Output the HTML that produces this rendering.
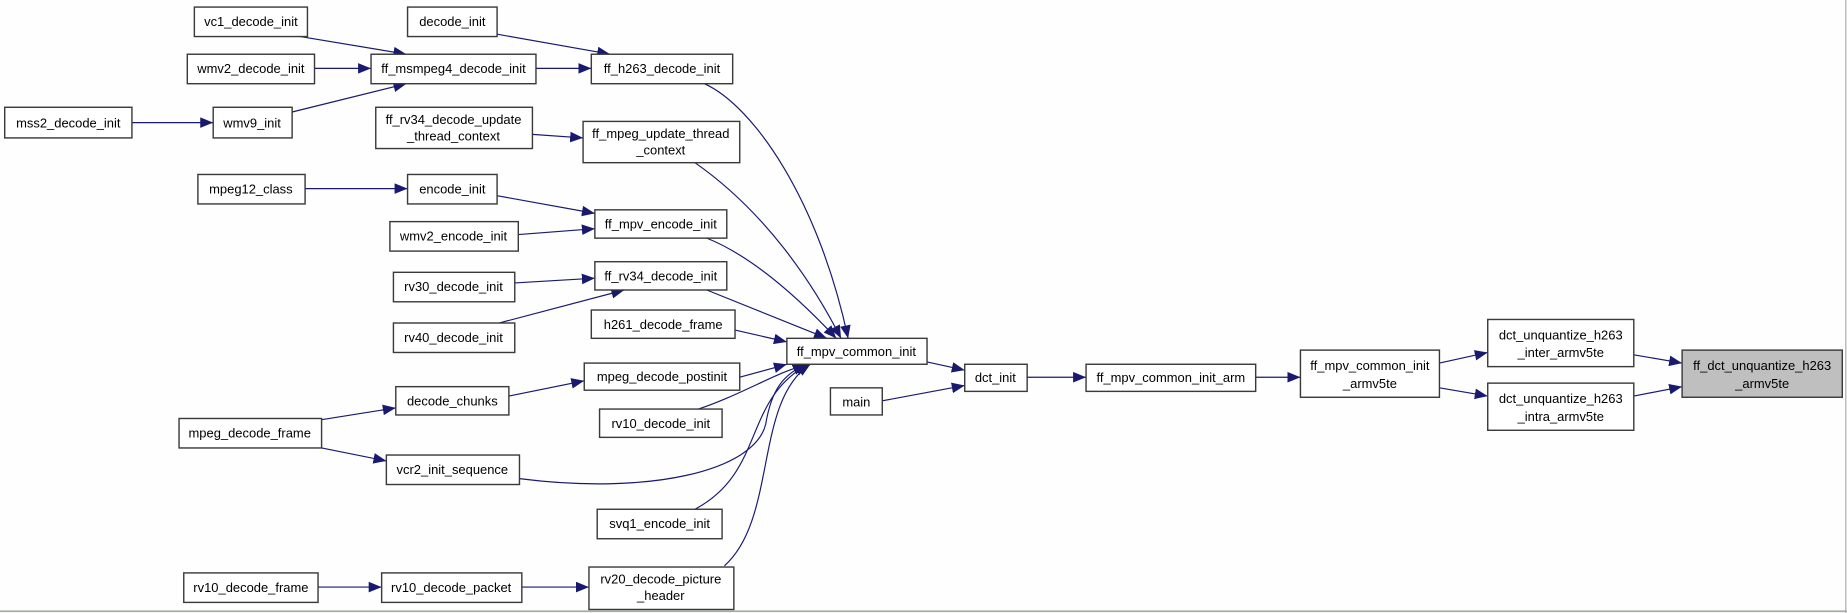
<!DOCTYPE html>
<html><head><meta charset="utf-8"><style>
html,body{margin:0;padding:0;background:#fdfefd;}
svg{display:block;}
text{font-family:"Liberation Sans",sans-serif;font-size:11px;fill:#000;text-anchor:middle;}
.n{fill:#fff;stroke:#3a3a3a;stroke-width:1.2;}
.e{fill:none;stroke:#191970;stroke-width:1;marker-end:url(#a);}
</style></head><body>
<svg width="1847" height="613" viewBox="0 0 1568 520" preserveAspectRatio="none" xmlns="http://www.w3.org/2000/svg">
<defs><marker id="a" markerUnits="userSpaceOnUse" markerWidth="12" markerHeight="10" refX="11" refY="4.5" orient="auto"><path d="M0,0 L11,4.5 L0,9 Z" fill="#191970"/></marker></defs>
<rect x="0" y="0" width="1568" height="520" fill="#fdfefd"/>
<line x1="0" y1="518.5" x2="1568" y2="518.5" stroke="#aaa" stroke-width="1.5"/>
<line x1="1567" y1="0" x2="1567" y2="520" stroke="#aaa" stroke-width="1"/>
<g>
<path class="e" d="M255,31 L345,46"/>
<path class="e" d="M267,58 L315,58"/>
<path class="e" d="M248,95 L345,71"/>
<path class="e" d="M112,104 L181,104"/>
<path class="e" d="M422,29 L518,46"/>
<path class="e" d="M455,58 L502,58"/>
<path class="e" d="M452,114 L495,117"/>
<path class="e" d="M259,160 L346,160"/>
<path class="e" d="M422,166 L505,181"/>
<path class="e" d="M440,199 L505,194"/>
<path class="e" d="M437,240 L505,236"/>
<path class="e" d="M420,275 L530,246"/>
<path class="e" d="M598,71 C640,90 695,170 720,287"/>
<path class="e" d="M590,138 C650,180 690,240 714,287"/>
<path class="e" d="M600,202 C640,218 680,255 710,287"/>
<path class="e" d="M600,246 L702,287"/>
<path class="e" d="M624,280 L668,290"/>
<path class="e" d="M628,320 L668,309"/>
<path class="e" d="M590,348 C630,335 660,315 686,309"/>
<path class="e" d="M441,406 C550,420 640,400 650,360 C655,330 665,318 684,309"/>
<path class="e" d="M590,432 C650,400 630,340 686,309"/>
<path class="e" d="M615,480 C660,440 640,340 688,309"/>
<path class="e" d="M432,336 L496,323"/>
<path class="e" d="M273,356 L336,346"/>
<path class="e" d="M273,380 L328,391"/>
<path class="e" d="M270,498 L324,498"/>
<path class="e" d="M443,498 L500,498"/>
<path class="e" d="M787,307 L819,314"/>
<path class="e" d="M749,340 L819,327"/>
<path class="e" d="M872,320 L922,320"/>
<path class="e" d="M1066,320 L1104,320"/>
<path class="e" d="M1222,308 L1263,299"/>
<path class="e" d="M1222,329 L1263,336"/>
<path class="e" d="M1387,301 L1428,308"/>
<path class="e" d="M1387,336 L1428,328"/>
</g>
<g>
<rect class="n" x="165" y="6" width="96" height="25"/><text x="213" y="22">vc1_decode_init</text>
<rect class="n" x="346" y="6" width="76" height="25"/><text x="384" y="22">decode_init</text>
<rect class="n" x="159" y="46" width="108" height="25"/><text x="213" y="62">wmv2_decode_init</text>
<rect class="n" x="315" y="46" width="140" height="25"/><text x="385" y="62">ff_msmpeg4_decode_init</text>
<rect class="n" x="502" y="46" width="120" height="25"/><text x="562" y="62">ff_h263_decode_init</text>
<rect class="n" x="4" y="91" width="108" height="26"/><text x="58" y="108">mss2_decode_init</text>
<rect class="n" x="181" y="91" width="67" height="26"/><text x="214" y="108">wmv9_init</text>
<rect class="n" x="319" y="91" width="133" height="35"/><text x="385" y="105">ff_rv34_decode_update</text><text x="385" y="119">_thread_context</text>
<rect class="n" x="495" y="103" width="133" height="35"/><text x="561" y="117">ff_mpeg_update_thread</text><text x="561" y="131">_context</text>
<rect class="n" x="168" y="148" width="91" height="25"/><text x="213" y="164">mpeg12_class</text>
<rect class="n" x="346" y="148" width="76" height="25"/><text x="384" y="164">encode_init</text>
<rect class="n" x="505" y="178" width="112" height="24"/><text x="561" y="194">ff_mpv_encode_init</text>
<rect class="n" x="331" y="188" width="109" height="25"/><text x="385" y="204">wmv2_encode_init</text>
<rect class="n" x="505" y="222" width="112" height="24"/><text x="561" y="238">ff_rv34_decode_init</text>
<rect class="n" x="334" y="231" width="103" height="25"/><text x="385" y="247">rv30_decode_init</text>
<rect class="n" x="502" y="263" width="122" height="24"/><text x="563" y="279">h261_decode_frame</text>
<rect class="n" x="334" y="274" width="103" height="25"/><text x="385" y="290">rv40_decode_init</text>
<rect class="n" x="668" y="287" width="119" height="22"/><text x="727" y="302">ff_mpv_common_init</text>
<rect class="n" x="496" y="308" width="132" height="23"/><text x="562" y="323">mpeg_decode_postinit</text>
<rect class="n" x="336" y="328" width="96" height="24"/><text x="384" y="344">decode_chunks</text>
<rect class="n" x="705" y="329" width="44" height="23"/><text x="727" y="345">main</text>
<rect class="n" x="509" y="347" width="104" height="24"/><text x="561" y="363">rv10_decode_init</text>
<rect class="n" x="152" y="355" width="121" height="25"/><text x="212" y="371">mpeg_decode_frame</text>
<rect class="n" x="328" y="386" width="113" height="25"/><text x="384" y="402">vcr2_init_sequence</text>
<rect class="n" x="507" y="432" width="106" height="25"/><text x="560" y="448">svq1_encode_init</text>
<rect class="n" x="156" y="486" width="114" height="25"/><text x="213" y="502">rv10_decode_frame</text>
<rect class="n" x="324" y="486" width="119" height="25"/><text x="383" y="502">rv10_decode_packet</text>
<rect class="n" x="500" y="481" width="123" height="36"/><text x="561" y="495">rv20_decode_picture</text><text x="561" y="509">_header</text>
<rect class="n" x="819" y="309" width="53" height="23"/><text x="845" y="324">dct_init</text>
<rect class="n" x="922" y="309" width="144" height="23"/><text x="994" y="324">ff_mpv_common_init_arm</text>
<rect class="n" x="1104" y="297" width="118" height="40"/><text x="1163" y="314">ff_mpv_common_init</text><text x="1163" y="329">_armv5te</text>
<rect class="n" x="1263" y="271" width="124" height="40"/><text x="1325" y="288">dct_unquantize_h263</text><text x="1325" y="303">_inter_armv5te</text>
<rect class="n" x="1263" y="325" width="124" height="40"/><text x="1325" y="342">dct_unquantize_h263</text><text x="1325" y="357">_intra_armv5te</text>
<rect class="n" x="1428" y="297" width="136" height="40" style="fill:#bfbfbf"/><text x="1496" y="314">ff_dct_unquantize_h263</text><text x="1496" y="329">_armv5te</text>
</g>
</svg>
</body></html>
